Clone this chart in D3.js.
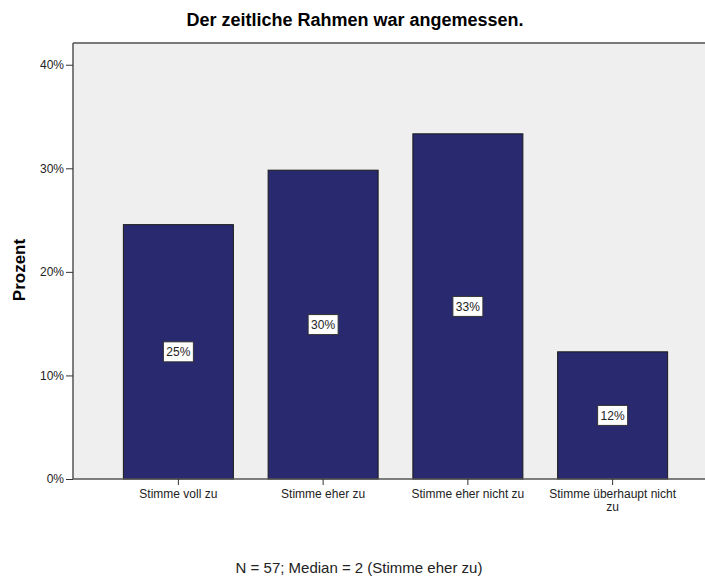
<!DOCTYPE html>
<html><head><meta charset="utf-8">
<script src="https://cdn.jsdelivr.net/npm/d3@7"></script>
<style>body{margin:0;background:#fff}svg{display:block}text{font-family:"Liberation Sans",Arial,sans-serif}</style>
</head><body><div id="chart"></div>
<script>
const categories = ["Stimme voll zu","Stimme eher zu","Stimme eher nicht zu","Stimme überhaupt nicht zu"];
const categoryLines = [["Stimme voll zu"],["Stimme eher zu"],["Stimme eher nicht zu"],["Stimme überhaupt nicht","zu"]];
const counts = [14,17,19,7];
const percents = [24.56,29.82,33.33,12.28];
const labels = ["25%","30%","33%","12%"];
const yTicks = [0,10,20,30,40];
const title = "Der zeitliche Rahmen war angemessen.";
const yTitle = "Prozent";
const footnote = "N = 57; Median = 2 (Stimme eher zu)";

(function(){
const W=705,H=577;
const svg=d3.select("#chart").append("svg").attr("width",W).attr("height",H);
const pLeft=73, pTop=43, pBottom=479;
const y=d3.scaleLinear().domain([0,42.1]).range([pBottom,pTop]);
const x=d3.scaleBand().domain(categories).range([pLeft,718]).paddingInner(0.24).paddingOuter(0.348);

svg.append("rect").attr("x",pLeft).attr("y",pTop).attr("width",W-pLeft).attr("height",pBottom-pTop).attr("fill","#efefef");
svg.append("line").attr("x1",pLeft).attr("x2",W).attr("y1",pTop).attr("y2",pTop).attr("stroke","#7a7a7a").attr("stroke-width",2);

svg.selectAll("rect.bar").data(categories).enter().append("rect").attr("class","bar")
  .attr("x",d=>x(d)).attr("width",x.bandwidth())
  .attr("y",(d,i)=>y(percents[i])).attr("height",(d,i)=>pBottom-y(percents[i]))
  .attr("fill","#29296f").attr("stroke","#1a1a1a").attr("stroke-width",1);

const ya=svg.append("g").attr("transform",`translate(${pLeft},0)`)
  .call(d3.axisLeft(y).tickValues(yTicks).tickFormat(d=>d+"%").tickSize(7).tickPadding(2));
ya.select(".domain").attr("stroke","#555").attr("stroke-width",1.5).attr("d",`M0,${pBottom}V${pTop}`);
ya.selectAll(".tick line").attr("stroke","#333");
ya.selectAll("text").attr("font-size",12).attr("fill","#222").attr("font-family","Liberation Sans, Arial, sans-serif");

const xa=svg.append("g").attr("transform",`translate(0,${pBottom})`)
  .call(d3.axisBottom(x).tickSize(6).tickFormat(""));
xa.select(".domain").attr("stroke","#555").attr("stroke-width",1.5).attr("d",`M${pLeft},0H${W}`);
xa.selectAll(".tick line").attr("stroke","#333");
xa.selectAll(".tick").each(function(d,i){
  const t=d3.select(this).append("text").attr("fill","#222").attr("font-size",12)
    .attr("text-anchor","middle").attr("font-family","Liberation Sans, Arial, sans-serif");
  categoryLines[i].forEach((l,j)=>t.append("tspan").attr("x",0).attr("y",19+j*13).text(l));
});

categories.forEach((c,i)=>{
  const cx=x(c)+x.bandwidth()/2, cy=y(percents[i]/2);
  const g=svg.append("g").attr("transform",`translate(${cx},${cy})`);
  g.append("rect").attr("x",-15).attr("y",-10).attr("width",30).attr("height",20).attr("fill","#fff").attr("stroke","#333").attr("stroke-width",1);
  g.append("text").attr("text-anchor","middle").attr("y",4.5).attr("font-size",12).attr("fill","#222").text(labels[i]);
});

svg.append("text").attr("x",355).attr("y",26).attr("text-anchor","middle").attr("font-size",18).attr("font-weight","bold").attr("fill","#000").text(title);
svg.append("text").attr("transform","translate(25,270) rotate(-90)").attr("text-anchor","middle").attr("font-size",17).attr("font-weight","bold").attr("fill","#000").text(yTitle);
svg.append("text").attr("x",359).attr("y",573).attr("text-anchor","middle").attr("font-size",15).attr("fill","#222").text(footnote);
})();
</script></body></html>
